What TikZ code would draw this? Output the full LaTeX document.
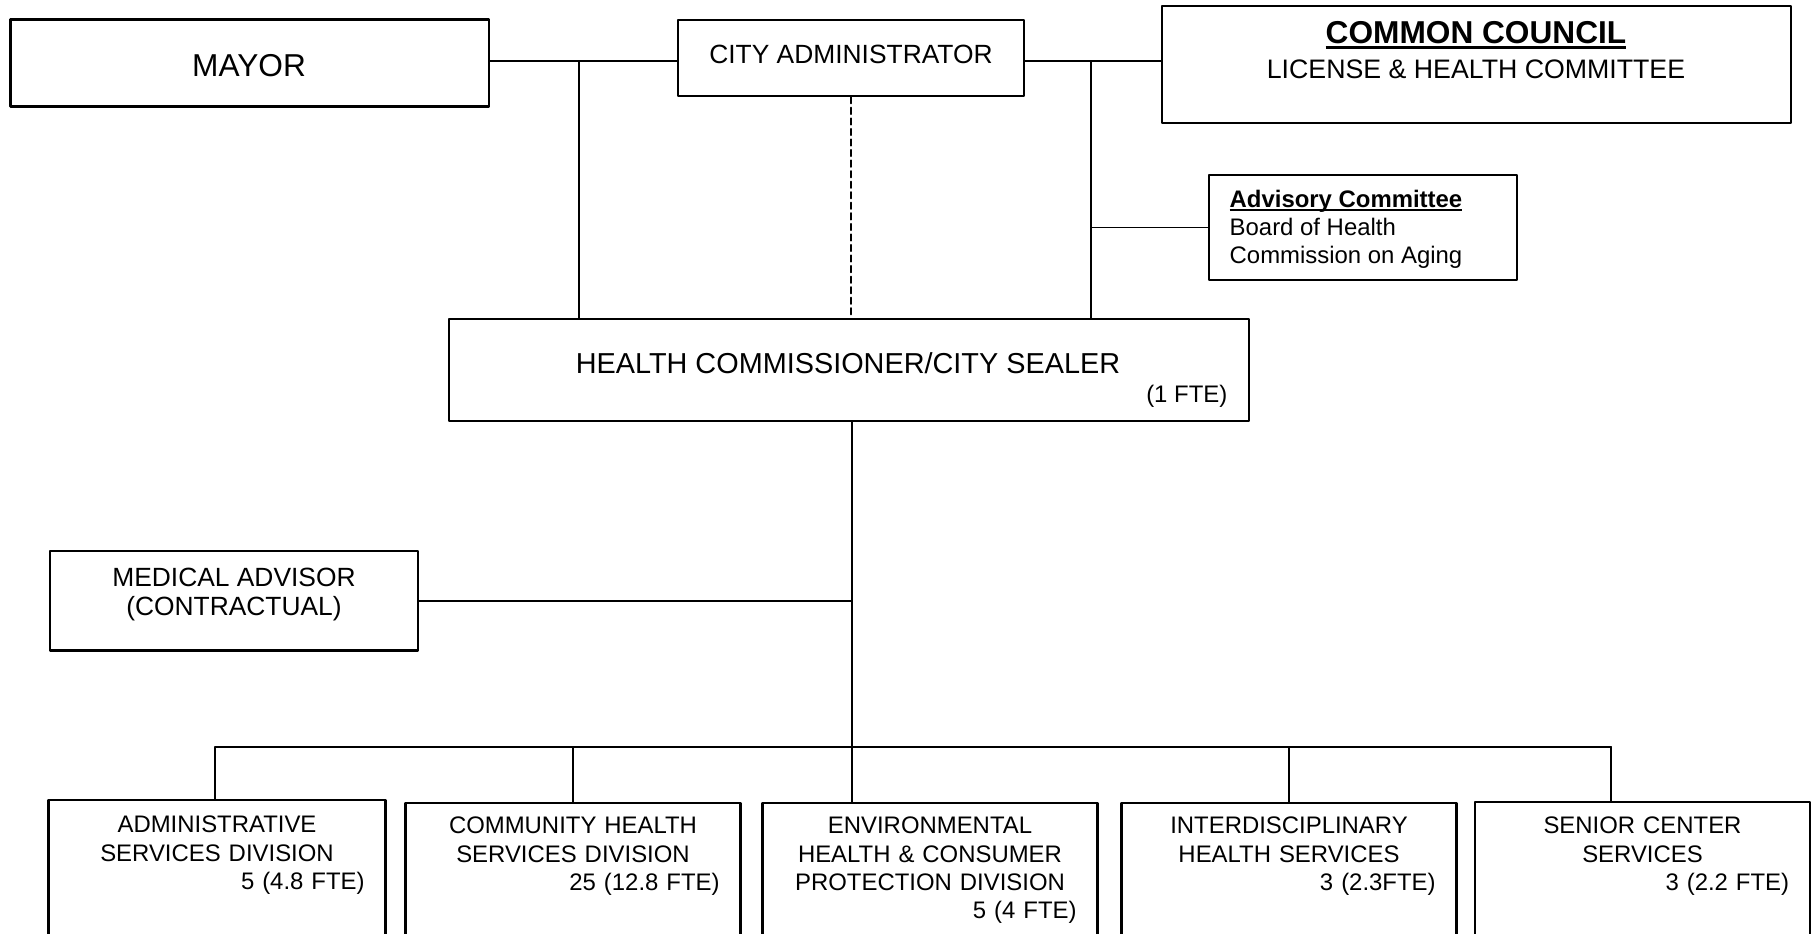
\documentclass[tikz,border=0pt]{standalone}
\usepackage{fontspec}
\setmainfont{Liberation Sans}
\usetikzlibrary{positioning}
\newcommand{\fs}[2]{\fontsize{#1}{#2}\selectfont}
% underline that sits close to the baseline
\newcommand{\ulined}[3]{\setbox0\hbox{#3}\rlap{\rule[#1]{\wd0}{#2}}\box0}
\begin{document}
\begin{tikzpicture}[x=0.01cm, y=-0.01cm, line join=round, line cap=round,
		box/.style={draw, line width=0.65pt, inner sep=0pt},
		divbox/.style={box, anchor=north, minimum height=2cm},
		divtxt/.style={inner sep=0pt, anchor=north, align=center, font=\fs{6.8}{8}},
		conn/.style={line width=0.55pt}]
				\def\bw{3.35cm}
				\path[use as bounding box] (0,0) rectangle (1815,934);
				\clip (0,0) rectangle (1815,934);
				\path
				(579,61) coordinate (jl)
				(1091,61) coordinate (jr)
				(852,747) coordinate (jm)
				(215,747) coordinate (b1)
				(573,747) coordinate (b2)
				(1289,747) coordinate (b4)
				(1611,747) coordinate (b5)
				;
				% boxes
				\node[box, minimum width=4.78cm, minimum height=0.87cm] (mayor) at (249.5,63) {};
				\node[box, minimum width=3.46cm, minimum height=0.76cm] (cityadm) at (851,58) {};
				\node[box, minimum width=6.29cm, minimum height=1.17cm] (council) at (1476.5,64.3) {};
				\node[box, minimum width=3.08cm, minimum height=1.05cm] (advisory) at (1363,227.5) {};
				\node[box, minimum width=8.00cm, minimum height=1.015cm] (healthcom) at (849,370) {};
				\node[box, minimum width=3.68cm, minimum height=0.995cm] (medadv) at (234,600.7) {};
				\node[divbox, minimum width=3.37cm] (admdiv) at (217,799) {};
				\node[divbox, minimum width=\bw] (chsdiv) at (573,802) {};
				\node[divbox, minimum width=\bw] (ehcdiv) at (930,802) {};
				\node[divbox, minimum width=\bw] (ihsdiv) at (1289,802) {};
				\node[divbox, minimum width=\bw] (scsdiv) at (1642.5,801) {};
				
				% texts
				\node[font=\fs{9}{11}] (mayortxt) at (249,66) {MAYOR};
				\node[font=\fs{7.5}{9}] (cityadmtxt) at (851,54) {CITY ADMINISTRATOR};
				\node[font=\fs{9}{11}\bfseries] (counciltxt) at (1476,35) {\ulined{-1.6pt}{0.9pt}{COMMON COUNCIL}};
				\node[font=\fs{7.6}{9}] (committeetxt) at (1476,69) {LICENSE \& HEALTH COMMITTEE};
				\node[anchor=west, align=left, inner sep=0pt, font=\fs{6.8}{8}] (advisorytxt) at (1229,229)
					{\textbf{\ulined{-1.1pt}{0.6pt}{Advisory Committee}}\\Board of Health\\Commission on Aging};
				\node[font=\fs{8.2}{10}] (healthcomtxt) at (848,363) {HEALTH COMMISSIONER/CITY SEALER};
				\node[anchor=east, inner sep=0pt, font=\fs{6.8}{8}] (ftetxt) at (1228,396) {(1 FTE)};
				\node[align=center, inner sep=0pt, font=\fs{7.5}{8.3}] (medadvtxt) at (234,594.5)
					{MEDICAL ADVISOR\\(CONTRACTUAL)};
				
				\node[divtxt, text width=2.95cm, below=0.165cm of admdiv.north] (admtxt)
					{ADMINISTRATIVE\\SERVICES DIVISION\\\makebox[\linewidth][r]{5 (4.8 FTE)}};
				\node[divtxt, text width=2.93cm, below=0.145cm of chsdiv.north] (chstxt)
					{COMMUNITY HEALTH\\SERVICES DIVISION\\\makebox[\linewidth][r]{25 (12.8 FTE)}};
				\node[divtxt, text width=2.93cm, below=0.145cm of ehcdiv.north] (ehctxt)
					{ENVIRONMENTAL\\HEALTH \& CONSUMER\\PROTECTION DIVISION\\\makebox[\linewidth][r]{5 (4 FTE)}};
				\node[divtxt, text width=2.93cm, below=0.145cm of ihsdiv.north] (ihstxt)
					{INTERDISCIPLINARY\\HEALTH SERVICES\\\makebox[\linewidth][r]{3 (2.3FTE)}};
				\node[divtxt, text width=2.93cm, below=0.155cm of scsdiv.north] (scstxt)
					{SENIOR CENTER\\SERVICES\\\makebox[\linewidth][r]{3 (2.2 FTE)}};
				
				% connectors
				\draw[conn] (mayor.east |- jl) -- (cityadm.west |- jl) (jl) -- (jl |- healthcom.north);
				\draw[conn] (cityadm.east |- jr) -- (council.west |- jr) (jr) -- (jr |- healthcom.north);
				\draw[conn] (jr |- advisory.west) -- (advisory.west);
				\draw[conn, dash pattern=on 1.8pt off 1.2pt] (cityadm.south) -- (cityadm.south |- healthcom.north);
				\draw[conn] (jm |- healthcom.south) -- (jm |- ehcdiv.north);
				\draw[conn] (medadv.east) -- (medadv.east -| jm);
				\draw[conn] (b1) -- (b5);
				\draw[conn] (b1) -- (b1 |- admdiv.north) (b2) -- (b2 |- chsdiv.north)
					(b4) -- (b4 |- ihsdiv.north) (b5) -- (b5 |- scsdiv.north);
\end{tikzpicture}
\end{document}
